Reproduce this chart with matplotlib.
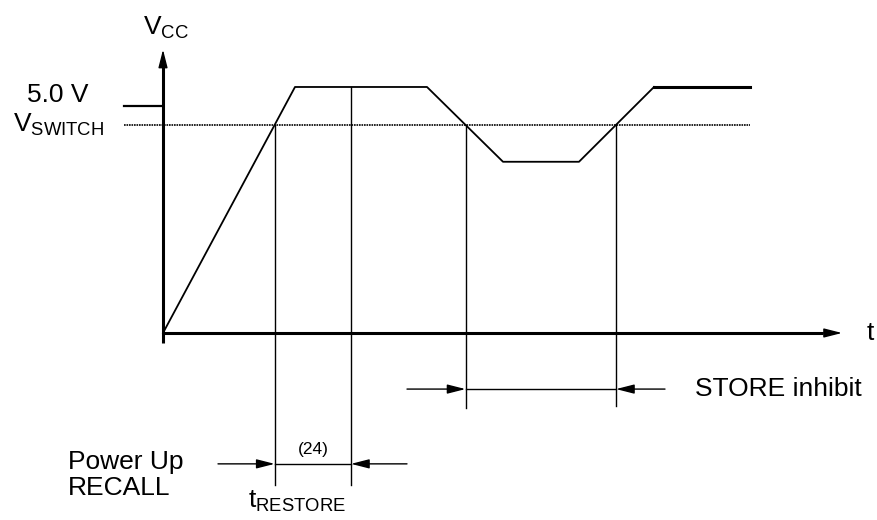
import numpy as np
import matplotlib
matplotlib.use("Agg")
import matplotlib.pyplot as plt

plt.rcParams['font.family'] = ['Liberation Sans', 'DejaVu Sans']
plt.rcParams['mathtext.fontset'] = 'custom'
plt.rcParams['mathtext.rm'] = 'Liberation Sans'
plt.rcParams['mathtext.it'] = 'Liberation Sans:italic'
plt.rcParams['mathtext.bf'] = 'Liberation Sans:bold'

# ---- data (time in arbitrary units, voltage in V) ----
wave_t = [0, 132, 264, 340, 416, 491, 587]
wave_v = [0.0, 5.0, 5.0, 3.48, 3.48, 5.0, 5.0]
v_switch = 4.23
v_tick = 4.61
tick_label = "5.0 V"
t_restore_end = 188
label_restore = "(24)"


def crossing(seg):
    t0, t1 = wave_t[seg], wave_t[seg + 1]
    v0, v1 = wave_v[seg], wave_v[seg + 1]
    return t0 + (v_switch - v0) * (t1 - t0) / (v1 - v0)


t_up = crossing(0)
t_down = crossing(2)
t_rise = crossing(4)

fig = plt.figure(figsize=(8.77, 5.2), dpi=100)
ax = fig.add_axes([0, 0, 1, 1])
ax.set_xlim(-163, 714)
ax.set_ylim(-3.801, 6.768)
ax.axis('off')

K = 'black'
FS = 19

# axes with arrows
ax.plot([0, 0], [-0.2, 5.5], color=K, lw=2.2, solid_capstyle='butt')
ax.plot([0, 660], [0, 0], color=K, lw=2.2, solid_capstyle='butt')
head = dict(arrowstyle='-|>,head_length=1.1,head_width=0.28', mutation_scale=10,
            color=K, lw=1, shrinkA=0, shrinkB=0)
ax.annotate('', xy=(0, 5.76), xytext=(0, 5.3), arrowprops=head)
ax.annotate('', xy=(679, 0), xytext=(640, 0), arrowprops=head)

# waveform
ax.plot(wave_t[:-1], wave_v[:-1], color=K, lw=1.3)
ax.plot(wave_t[-2:], wave_v[-2:], color=K, lw=2.2)

# switch level and tick
ax.plot([-39, wave_t[-1]], [v_switch, v_switch], color=K, lw=1.2,
        linestyle=(0, (1, 0.5)))
ax.plot([-39, 0], [v_tick, v_tick], color=K, lw=1.6)

# vertical markers
ax.plot([t_up, t_up], [v_switch, -3.09], color=K, lw=1)
ax.plot([t_restore_end, t_restore_end], [wave_v[1], -3.09], color=K, lw=1)
ax.plot([t_down, t_down], [v_switch, -1.52], color=K, lw=1)
ax.plot([t_rise, t_rise], [v_switch, -1.48], color=K, lw=1)

# dimension arrows
y_store = -1.14
y_rec = -2.66
ax.plot([t_down, t_rise], [y_store, y_store], color=K, lw=1)
ax.plot([t_up, t_restore_end], [y_rec, y_rec], color=K, lw=1)
ax.annotate('', xy=(t_down, y_store), xytext=(244, y_store), arrowprops=head)
ax.annotate('', xy=(t_rise, y_store), xytext=(502, y_store), arrowprops=head)
ax.annotate('', xy=(t_up, y_rec), xytext=(55, y_rec), arrowprops=head)
ax.annotate('', xy=(t_restore_end, y_rec), xytext=(244, y_rec), arrowprops=head)

# text
ax.text(-20, 6.06, r'V$_{\mathrm{CC}}$', fontsize=FS, ha='left', va='baseline')
ax.text(-136, 4.695, tick_label, fontsize=FS, ha='left', va='baseline')
ax.text(-150, 4.085, r'V$_{\mathrm{SWITCH}}$', fontsize=FS, ha='left', va='baseline')
ax.text(704, 0, 't', fontsize=FS, ha='left', va='center')
ax.text(532, y_store, 'STORE inhibit', fontsize=FS, ha='left', va='center')
ax.text((t_up + t_restore_end) / 2, -2.37, label_restore, fontsize=12.5,
        ha='center', va='center')
ax.text(-95, -2.886, 'Power Up\nRECALL', fontsize=FS, ha='left', va='center',
        linespacing=1.08)
ax.text(85, -3.557, r't$_{\mathrm{RESTORE}}$', fontsize=FS, ha='left', va='baseline')

fig.savefig('out.png', dpi=100)
